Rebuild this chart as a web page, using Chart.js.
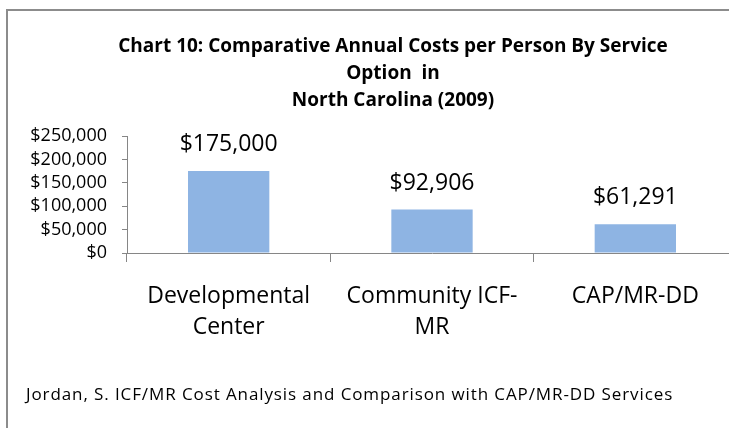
<!DOCTYPE html>
<html>
<head>
<meta charset="utf-8">
<script src="https://cdn.jsdelivr.net/npm/chart.js@4"></script>
<style>
  html, body { margin: 0; padding: 0; background: #fff; overflow: hidden; width: 729px; height: 428px; }
  #frame { position: absolute; left: 6px; top: 9px; width: 800px; height: 500px;
           border-left: 2px solid #8c8c8c; border-top: 2px solid #8c8c8c; box-sizing: border-box; }
  #wrap { position: absolute; left: 0; top: 0; width: 737px; height: 428px; }
</style>
</head>
<body>
<div id="frame"></div>
<div id="wrap"><canvas id="c" width="737" height="428"></canvas></div>
<script>
const categories = [["Developmental", "Center"], ["Community ICF-", "MR"], ["CAP/MR-DD"]];
const costs = [175000, 92906, 61291];
const valueLabels = ["$175,000", "$92,906", "$61,291"];
const titleLines = ["Chart 10: Comparative Annual Costs per Person By Service", "Option  in", "North Carolina (2009)"];
const footerText = "Jordan, S. ICF/MR Cost Analysis and Comparison with CAP/MR-DD Services";
const yTicks = [0, 50000, 100000, 150000, 200000, 250000];

const FONT = "'Open Sans', 'DejaVu Sans', sans-serif";

const valueLabelPlugin = {
  id: 'valueLabels',
  afterLayout(chart) {
    // centre the title over the original chart frame
    if (chart.titleBlock) { chart.titleBlock.left = 49; }
  },
  afterDatasetsDraw(chart) {
    const ctx = chart.ctx;
    const meta = chart.getDatasetMeta(0);
    ctx.save();
    ctx.font = "23px " + FONT;
    ctx.fillStyle = "#000";
    ctx.textAlign = "center";
    ctx.textBaseline = "alphabetic";
    meta.data.forEach((bar, i) => {
      ctx.fillText(valueLabels[i], bar.x, bar.y - 20);
    });
    ctx.restore();
  }
};

const footerPlugin = {
  id: 'footerText',
  afterDraw(chart) {
    const ctx = chart.ctx;
    ctx.save();
    ctx.font = "17px " + FONT;
    ctx.letterSpacing = "0.9px";
    ctx.fillStyle = "#000";
    ctx.textAlign = "left";
    ctx.textBaseline = "alphabetic";
    ctx.fillText(footerText, 26, 400);
    ctx.restore();
  }
};

new Chart(document.getElementById('c'), {
  type: 'bar',
  data: {
    labels: categories,
    datasets: [{
      data: costs,
      backgroundColor: '#8EB4E3',
      borderWidth: 0,
      categoryPercentage: 1.0,
      barPercentage: 0.4
    }]
  },
  options: {
    responsive: false,
    animation: false,
    devicePixelRatio: 1,
    layout: { padding: { left: 0, right: 0, top: 0, bottom: 0 } },
    plugins: {
      legend: { display: false },
      tooltip: { enabled: false },
      title: {
        display: true,
        text: titleLines,
        color: '#000',
        font: { family: FONT, size: 19, weight: 'bold', lineHeight: 27 / 19 },
        padding: { top: 33.5, bottom: 21.5 }
      }
    },
    scales: {
      x: {
        offset: true,
        grid: { display: true, drawOnChartArea: false, drawTicks: true, tickLength: 9, color: '#868686', offset: true },
        border: { display: true, color: '#868686', width: 1 },
        ticks: { color: '#000', font: { family: FONT, size: 23, lineHeight: 31 / 23 }, padding: 18.5, maxRotation: 0, autoSkip: false },
        afterFit(scale) { scale.height = 175; }
      },
      y: {
        min: 0,
        max: 250000,
        afterBuildTicks(scale) { scale.ticks = yTicks.map(v => ({ value: v })); },
        grid: { display: true, drawOnChartArea: false, drawTicks: true, tickLength: 5, color: '#868686' },
        border: { display: true, color: '#868686', width: 1 },
        ticks: {
          color: '#000',
          font: { family: FONT, size: 18, lineHeight: 1 },
          padding: 15,
          autoSkip: false,
          callback: (v) => '$' + Number(v).toLocaleString('en-US')
        },
        afterFit(scale) { scale.width = 127; }
      }
    }
  },
  plugins: [valueLabelPlugin, footerPlugin]
});
</script>
</body>
</html>
